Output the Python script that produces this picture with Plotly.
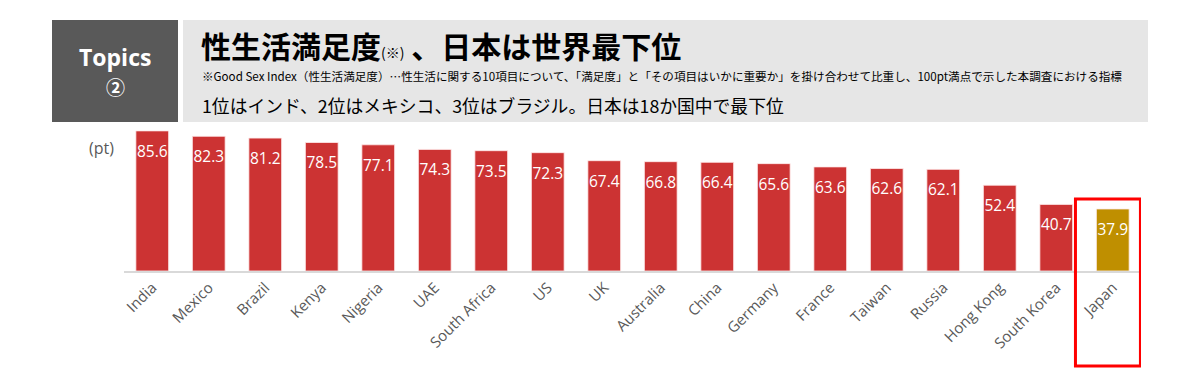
import plotly.graph_objects as go

countries = ["India", "Mexico", "Brazil", "Kenya", "Nigeria", "UAE", "South Africa", "US", "UK",
             "Australia", "China", "Germany", "France", "Taiwan", "Russia", "Hong Kong",
             "South Korea", "Japan"]
values = [85.6, 82.3, 81.2, 78.5, 77.1, 74.3, 73.5, 72.3, 67.4, 66.8, 66.4, 65.6, 63.6, 62.6,
          62.1, 52.4, 40.7, 37.9]
highlight = "Japan"

RED = "#cc3333"
GOLD = "#bf8f00"
colors = [GOLD if c == highlight else RED for c in countries]

OFF = 8  # page body margin
W, H = 1200 - OFF, 379 - OFF
L, R, T, B = 124 - OFF, 59, 125 - OFF, 108
pw, ph = W - L - R, H - T - B
YMAX = 89.2
label_drop = 22 * YMAX / ph  # label sits ~22px below the bar top


def px(x):
    return (x - OFF - L) / pw


def py(y):
    return (H - B - (y - OFF)) / ph


fig = go.Figure()
fig.add_trace(go.Bar(
    x=countries, y=values,
    marker=dict(color=colors, line=dict(color="rgba(255,235,235,0.8)", width=1)),
    hoverinfo="x+y",
))
fig.add_trace(go.Scatter(
    x=countries, y=[v - label_drop for v in values],
    mode="text", text=[f"{v:.1f}" for v in values], textposition="middle center",
    textfont=dict(color="white", size=15.5, family="Open Sans"),
    hoverinfo="skip", cliponaxis=False,
))

shapes = [
    dict(type="rect", xref="paper", yref="paper", x0=px(52), x1=px(178), y0=py(122), y1=py(20),
         fillcolor="#595959", line=dict(width=0), layer="below"),
    dict(type="rect", xref="paper", yref="paper", x0=px(183), x1=px(1148), y0=py(122), y1=py(20),
         fillcolor="#e6e6e6", line=dict(width=0), layer="below"),
]
hi = countries.index(highlight)
shapes.append(dict(type="rect", xref="x", yref="paper", x0=hi - 0.66, x1=hi + 0.49,
                   y0=py(366), y1=py(199), line=dict(color="#ff0000", width=3),
                   fillcolor="rgba(0,0,0,0)"))

JP = "Noto Sans CJK JP"
annotations = [
    dict(text="<b>Topics</b>", x=px(115), y=py(57), xref="paper", yref="paper", showarrow=False,
         font=dict(color="white", size=23, family="Open Sans"), xanchor="center", yanchor="middle"),
    dict(text="<b>②</b>", x=px(115), y=py(86), xref="paper", yref="paper", showarrow=False,
         font=dict(color="white", size=19, family=JP), xanchor="center", yanchor="middle"),
    dict(text="<b>性生活満足度</b><span style='font-size:14px'>(※)</span><b> 、日本は世界最下位</b>",
         x=px(199), y=py(45), xref="paper", yref="paper", showarrow=False,
         font=dict(color="#000000", size=30, family=JP), xanchor="left", yanchor="middle"),
    dict(text="※Good Sex Index（性生活満足度）…性生活に関する10項目について、「満足度」と「その項目はいかに重要か」を掛け合わせて比重し、100pt満点で示した本調査における指標",
         x=px(200), y=py(76), xref="paper", yref="paper", showarrow=False,
         font=dict(color="#000000", size=11.6, family=JP), xanchor="left", yanchor="middle"),
    dict(text="1位はインド、2位はメキシコ、3位はブラジル。日本は18か国中で最下位",
         x=px(200), y=py(105), xref="paper", yref="paper", showarrow=False,
         font=dict(color="#000000", size=17.8, family=JP), xanchor="left", yanchor="middle"),
    dict(text="(pt)", x=px(101), y=py(148), xref="paper", yref="paper", showarrow=False,
         font=dict(color="#595959", size=16, family="Open Sans"), xanchor="center", yanchor="middle"),
]

fig.update_layout(
    width=W, height=H,
    margin=dict(l=L, r=R, t=T, b=B),
    paper_bgcolor="white", plot_bgcolor="white",
    bargap=0.42,
    showlegend=False,
    shapes=shapes,
    annotations=annotations,
    xaxis=dict(tickangle=-45, tickfont=dict(color="#595959", size=15, family="Open Sans"),
               showline=True, linecolor="#d9d9d9", linewidth=2, ticks="", showgrid=False,
               range=[-0.5, len(countries) - 0.5], fixedrange=True),
    yaxis=dict(range=[0, YMAX], visible=False, fixedrange=True),
)

fig.write_html("out.html", config=dict(displayModeBar=False))
